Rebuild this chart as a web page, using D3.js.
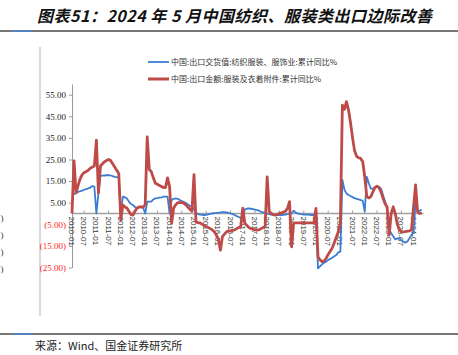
<!DOCTYPE html>
<html><head><meta charset="utf-8">
<script src="https://cdn.jsdelivr.net/npm/d3@7"></script>
<style>html,body{margin:0;padding:0;background:#fff;}svg{display:block;}</style>
</head><body>
<script>
// ---- data ----
const startYear = 2010;
const blueName = "中国:出口交货值:纺织服装、服饰业:累计同比%";
const redName = "中国:出口金额:服装及衣着附件:累计同比%";
const blueValues = [
  8.6, 9.0, 9.5, 10.0, 10.3, 10.6, 11.0, 11.3, 11.6, 12.0, 12.7, 12.4,
  0, 9.3, 17.4, 17.5, 17.6, 17.7, 17.8, 17.6, 17.3, 17.0, 16.8, 16.6,
  0, 7.8, 7.5, 7.0, 5.5, 4.4, 3.9, 3.0, 2.4, 3.0, 3.1, 2.7,
  0, 5.5, 5.5, 5.5, 6.5, 7.0, 7.1, 7.3, 7.5, 7.8, 7.8, 7.8,
  0, 6.2, 6.8, 7.0, 6.8, 6.2, 5.8, 5.3, 4.8, 4.2, 3.6, 3.1,
  2.0, 0.4, -0.3, -0.5, -0.6, -0.7, -0.6, -0.4, -0.2, 0, 0.2, 0.3,
  0.3, 0.5, 0.6, 0.6, 0.5, 0.3, 0, -0.3, -0.7, -1.2, -1.6, -2.0,
  -2.2, 1.9, 2.2, 2.4, 2.2, 2.0, 1.8, 1.6, 1.3, 0.8, 0.5, 0.2,
  0, -0.3, -0.5, -0.7, -0.7, -0.7, -0.7, -0.7, -0.6, -0.5, -0.3, 0,
  0, 1.3, 0.5, 0, -0.2, -0.3, -0.5, -0.5, -0.5, -0.6, -0.7, -0.7,
  -1.0, -25.4, -24.5, -23.5, -22.8, -22.3, -21.5, -21.0, -20.5, -19.8, -19.2, -18.0,
  -17.7, 15.5, 11.0, 9.3, 8.6, 8.1, 7.6, 7.1, 6.8, 6.5, 6.2, 5.9,
  0.8, 17.0, 14.0, 11.5, 11.5, 12.0, 12.4, 12.3, 11.5, 8.5, 5.5, 2.4,
  -8.0, -9.2, -10.5, -12.0, -11.5, -11.4, -12.5, -13.0, -13.5, -13.0, -11.5, -10.0,
  -9.0, 5.5, 0.8, 1.3, 1.9
];
const redValues = [
  0, 24.4, 9.5, 13.0, 16.0, 18.0, 19.0, 19.4, 20.0, 21.0, 21.5, 22.0,
  34.0, 9.5, 22.0, 23.0, 24.0, 24.5, 25.0, 24.5, 23.0, 21.5, 20.0, 18.5,
  -3.0, 4.0, 3.0, 2.5, 1.0, -0.5, -0.7, 1.0, 2.5, 3.0, 3.0, 3.0,
  4.0, 35.5, 20.4, 19.4, 16.5, 14.0, 13.5, 13.0, 12.5, 12.0, 12.0, 16.5,
  12.5, -4.5, 2.5, 4.0, 5.0, 5.0, 5.0, 4.8, 4.0, 3.0, 2.0, 1.0,
  18.0, -3.8, -4.3, -4.3, -5.0, -5.5, -6.0, -6.5, -7.0, -7.6, -8.5, -10.0,
  -12.0, -17.0, -10.7, -9.5, -8.5, -8.0, -8.0, -7.8, -7.6, -7.0, -6.5, -6.0,
  2.5, -4.5, -5.5, -6.5, -7.0, -7.3, -7.6, -7.6, -7.6, -7.0, -6.5, -6.0,
  17.0, 1.0, 0, -0.5, -0.7, -0.5, 0, 0.3, 0.7, 1.0, 2.4, 5.5,
  -15.4, -4.5, -4.3, -4.3, -4.3, -4.3, -4.3, -4.3, -4.3, -4.3, -4.3, -4.3,
  2.4, -20.0, -21.5, -22.3, -22.0, -20.7, -19.0, -17.5, -16.0, -13.5, -11.0, -8.5,
  -4.5, 50.2, 48.2, 51.8, 48.0, 42.0, 35.0, 29.0, 26.5, 25.8, 25.5, 24.0,
  17.0, 7.8, 7.2, 7.8, 10.0, 12.0, 12.7, 12.0, 10.0, 7.0, 4.5, 3.0,
  -10.0, 0.0, 3.1, 0.0, -5.0, -7.5, -8.4, -8.5, -8.4, -8.2, -8.0, -7.6,
  3.0, 13.2, 0.8, 0.0, 0.3
];
const months = blueValues.map((_, i) => {
  const y = startYear + Math.floor(i / 12), m = (i % 12) + 1;
  return y + "-" + String(m).padStart(2, "0");
});
const xTickLabels = months.filter(m => m.endsWith("-01") || m.endsWith("-07"));
const xTickMarks = months.filter(m => m.endsWith("-07"));
const yTicks = [-25, -15, -5, 5, 15, 25, 35, 45, 55];
const yDomain = [-25, 60];
const titleText = "图表51：2024 年 5 月中国纺织、服装类出口边际改善";
const sourceText = "来源：Wind、国金证券研究所";
const fragmentText = ")";

// ---- drawing ----
const W = 458, H = 355;
const svg = d3.select("body").append("svg").attr("width", W).attr("height", H);

// title and rules
svg.append("text").attr("x", 37).attr("y", 22)
  .attr("font-family", "'Noto Sans CJK SC', sans-serif").attr("font-size", 16)
  .attr("font-weight", "bold").attr("font-style", "italic").attr("fill", "#111")
  .attr("textLength", 395).attr("lengthAdjust", "spacing")
  .text(titleText);
[31, 334].forEach(y => {
  svg.append("line").attr("x1", 0).attr("x2", W).attr("y1", y).attr("y2", y)
    .attr("stroke", "#4a4a4a").attr("stroke-width", 1.6);
  svg.append("line").attr("x1", 12).attr("x2", 32).attr("y1", y).attr("y2", y)
    .attr("stroke", "#4f86c6").attr("stroke-width", 1.8);
});
svg.append("text").attr("x", 35).attr("y", 350)
  .attr("font-family", "'Noto Sans CJK SC', sans-serif").attr("font-size", 11)
  .attr("fill", "#222").text(sourceText);

// separator line on the left
svg.append("line").attr("x1", 40).attr("x2", 40).attr("y1", 47).attr("y2", 316)
  .attr("stroke", "#b5b5b5").attr("stroke-width", 1);
// fragments of neighbouring chart labels
[218, 235, 252, 269].forEach(y => {
  svg.append("text").attr("x", 0.5).attr("y", y + 3)
    .attr("font-family", "'Liberation Serif', serif").attr("font-size", 9)
    .attr("fill", "#333").text(fragmentText);
});

const x = d3.scalePoint().domain(months).range([72, 72 + (months.length - 1) * 2.033]);
const y = d3.scaleLinear().domain(yDomain).range([267.5, 83.9]);

// y axis
const yAxis = d3.axisLeft(y).tickValues(yTicks).tickSize(3).tickSizeOuter(0)
  .tickFormat(v => v < 0 ? "(" + d3.format(".2f")(-v) + ")" : d3.format(".2f")(v));
const gy = svg.append("g").attr("transform", "translate(72,0)").call(yAxis);
gy.select(".domain").attr("stroke", "#9a9a9a");
gy.selectAll(".tick line").attr("stroke", "#9a9a9a");
gy.selectAll(".tick text")
  .attr("font-family", "'Liberation Serif', 'Times New Roman', serif")
  .attr("font-size", 9).attr("x", -6)
  .attr("fill", d => d < 0 ? "#ff1a1a" : "#222");

// zero axis
const y0 = y(0);
svg.append("line").attr("x1", x(months[0])).attr("x2", x(months[months.length - 1]) + 2)
  .attr("y1", y0).attr("y2", y0).attr("stroke", "#a0a0a0").attr("stroke-width", 1.5);
svg.selectAll(".xtick").data(xTickMarks).enter().append("line")
  .attr("x1", d => x(d)).attr("x2", d => x(d)).attr("y1", y0 - 3).attr("y2", y0)
  .attr("stroke", "#a0a0a0").attr("stroke-width", 1);
svg.selectAll(".xlab").data(xTickLabels).enter().append("text")
  .attr("transform", d => `translate(${x(d) - 3},${y0 + 3}) rotate(90)`)
  .attr("font-family", "'Liberation Sans', Arial, sans-serif").attr("font-size", 8)
  .attr("fill", "#333").text(d => d);

// lines
const line = vals => d3.line().x((d, i) => x(months[i])).y(d => y(d))(vals);
svg.append("path").attr("d", line(blueValues)).attr("fill", "none")
  .attr("stroke", "#3a7dd4").attr("stroke-width", 1.8).attr("stroke-linejoin", "round");
svg.append("path").attr("d", line(redValues)).attr("fill", "none")
  .attr("stroke", "#be4b48").attr("stroke-width", 2.8).attr("stroke-linejoin", "round");

// legend
const legend = [
  {name: blueName, color: "#3a7dd4", w: 1.8, y: 62},
  {name: redName, color: "#be4b48", w: 3, y: 79}
];
legend.forEach(l => {
  svg.append("line").attr("x1", 148).attr("x2", 169).attr("y1", l.y).attr("y2", l.y)
    .attr("stroke", l.color).attr("stroke-width", l.w);
  svg.append("text").attr("x", 171).attr("y", l.y + 3)
    .attr("font-family", "'Noto Sans CJK SC', sans-serif").attr("font-size", 8)
    .attr("fill", "#333").text(l.name);
});
</script>
</body></html>
